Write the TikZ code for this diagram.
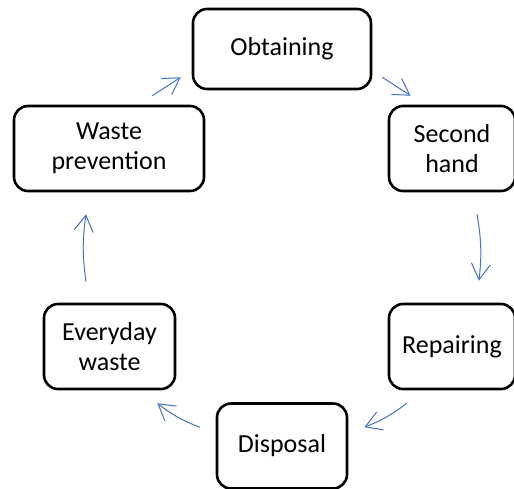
\documentclass[tikz,border=0pt]{standalone}
\usepackage{fontspec}
\setmainfont{Carlito}
\usetikzlibrary{arrows.meta}
\usepackage{xcolor}
\definecolor{flowblue}{HTML}{4472C4}

\begin{document}
\begin{tikzpicture}[x=0.5pt, y=-0.5pt,
	stage/.style={draw, rounded corners=7pt, line width=1.3pt, align=center, inner sep=0pt, font=\fontsize{13}{15}\selectfont},
	flow/.style={draw=flowblue, line width=0.5pt, -{Straight Barb[length=8pt, width=9.5pt]}}]
	\useasboundingbox (0,0) rectangle (514,488);
	\node (obt) [stage, minimum width=89pt, minimum height=40pt] at (282,49) {Obtaining};
	\node (sec) [stage, minimum width=63pt, minimum height=42.5pt] at (452,148.5) {Second\\hand};
	\node (rep) [stage, minimum width=63pt, minimum height=42.5pt] at (452,346.5) {Repairing};
	\node (dis) [stage, minimum width=65pt, minimum height=42.5pt] at (282,446) {Disposal};
	\node (evw) [stage, minimum width=65.5pt, minimum height=42.5pt] at (109.5,346.5) {Everyday\\waste};
	\node (wpr) [stage, minimum width=95pt, minimum height=42.5pt] at (109,148.5) {Waste\\prevention};
	\draw[flow] ([shift={(-53,-9)}]wpr.north east) -- ([shift={(-11,-13)}]obt.south west);
	\draw[flow] ([shift={(10,-13)}]obt.south east) -- ([shift={(23,-9)}]sec.north west);
	\draw[flow] ([shift={(25,22)}]sec.south) to[bend left=8] ([shift={(27,-22)}]rep.north);
	\draw[flow] ([shift={(19,13)}]rep.south west) to[bend left=8] ([shift={(16,25)}]dis.north east);
	\draw[flow] ([shift={(-16,25)}]dis.north west) to[bend left=8] ([shift={(-19,13)}]evw.south east);
	\draw[flow] ([shift={(-23.5,-21)}]evw.north) to[bend left=8] ([shift={(-23,22)}]wpr.south);
\end{tikzpicture}
\end{document}
